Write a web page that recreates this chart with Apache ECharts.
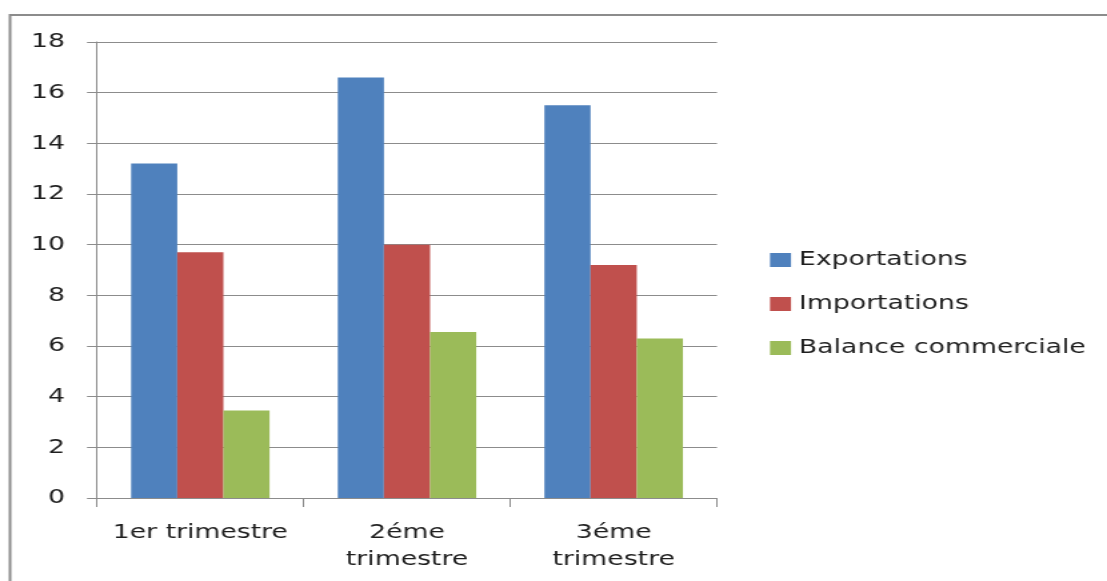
<!DOCTYPE html>
<html>
<head>
<meta charset="utf-8">
<script src="https://cdn.jsdelivr.net/npm/echarts@6/dist/echarts.min.js"></script>
<style>
  html, body { margin: 0; padding: 0; background: #fff; overflow: hidden; }
  #wrap { width: 1107px; height: 581px; overflow: hidden; }
  #chart { height: 581px; transform-origin: 0 0; }
</style>
</head>
<body>
<div id="wrap"><div id="chart"></div></div>
<script>
// Quarterly trade figures
const quarters = ['1er trimestre', '2éme\ntrimestre', '3éme\ntrimestre'];
const exportations = [13.2, 16.6, 15.5];
const importations = [9.7, 10.0, 9.2];
const balance = [3.45, 6.55, 6.3];
const seriesNames = ['Exportations', 'Importations', 'Balance commerciale'];
const seriesColors = ['#4F81BD', '#C0504D', '#9BBB59'];
const yTicks = { min: 0, max: 18, step: 2 };

// The chart is laid out in a narrower box and widened horizontally,
// giving the broad lettering of the original slide.
const STRETCH = 1.3337;
const OUT_W = 1107;
const el = document.getElementById('chart');
el.style.width = (OUT_W / STRETCH) + 'px';
el.style.transform = 'scaleX(' + STRETCH + ')';
const sx = v => v / STRETCH;   // horizontal page pixels -> chart pixels

const fontFamily = '"DejaVu Sans", Verdana, sans-serif';
const textColor = '#1f1f1f';
const lineColor = '#8c8c8c';

const chart = echarts.init(el);
chart.setOption({
  animation: false,
  backgroundColor: '#ffffff',
  textStyle: { fontFamily: fontFamily },
  graphic: [{
    type: 'rect',
    shape: { x: sx(10), y: 15, width: sx(1120), height: 620 },
    style: { fill: 'none', stroke: lineColor, lineWidth: 2 },
    silent: true
  }],
  grid: { left: sx(97), right: sx(390), top: 42, bottom: 83, containLabel: false },
  legend: {
    orient: 'vertical',
    left: sx(770),
    top: 250,
    padding: 0,
    itemWidth: sx(21),
    itemHeight: 14,
    itemGap: 24,
    icon: 'rect',
    textStyle: { fontSize: 20, color: textColor, fontFamily: fontFamily, padding: [0, 0, 0, 1] },
    data: seriesNames
  },
  xAxis: {
    type: 'category',
    data: quarters,
    axisLine: { lineStyle: { color: lineColor, width: 1 } },
    axisTick: { show: true, length: 9, alignWithLabel: false, lineStyle: { color: lineColor } },
    axisLabel: {
      interval: 0,
      margin: 21,
      fontSize: 20,
      lineHeight: 27,
      color: textColor,
      fontFamily: fontFamily
    }
  },
  yAxis: {
    type: 'value',
    min: yTicks.min,
    max: yTicks.max,
    interval: yTicks.step,
    axisLine: { show: true, lineStyle: { color: lineColor, width: 1 } },
    axisTick: { show: true, length: sx(10), lineStyle: { color: lineColor } },
    splitLine: { show: true, lineStyle: { color: lineColor, width: 1 } },
    axisLabel: { margin: sx(32), fontSize: 20, color: textColor, fontFamily: fontFamily }
  },
  series: [
    { name: seriesNames[0], type: 'bar', data: exportations, itemStyle: { color: seriesColors[0] }, barGap: '0%', barCategoryGap: '33%' },
    { name: seriesNames[1], type: 'bar', data: importations, itemStyle: { color: seriesColors[1] } },
    { name: seriesNames[2], type: 'bar', data: balance, itemStyle: { color: seriesColors[2] } }
  ]
});
</script>
</body>
</html>
